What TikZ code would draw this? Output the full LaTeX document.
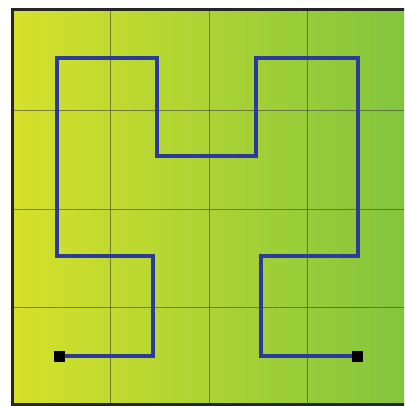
\documentclass[tikz,border=0pt]{standalone}
\begin{document}
\begin{tikzpicture}[x=1pt,y=-1pt,
  gridline/.style={draw=black!75,line width=0.8pt,opacity=0.6},
  curve/.style={draw=curveblue,line width=4pt,line join=miter},
  endbox/.style={fill=black,draw=none,minimum size=11pt,inner sep=0pt,rectangle}]
\definecolor{curveblue}{HTML}{2C3A9C}
\definecolor{leftc}{HTML}{D6E12A}
\definecolor{rightc}{HTML}{82C53E}
\useasboundingbox (0,0) rectangle (404,406);
\fill[white] (0,0) rectangle (404,406);
\begin{scope}
\clip (0,0) rectangle (404,406);
\shade[left color=leftc,right color=rightc] (12,10) rectangle (406,404);
\foreach \v in {110.5,209,307.5}{
  \draw[gridline] (\v,10) -- (\v,404);
  \draw[gridline] (12,\v) -- (406,\v);
}
\draw[line width=3pt,black!85] (12,10) rectangle (406,404);
\end{scope}
% Hilbert curve at cell centres
\node[endbox] (s) at (59,356) {};
\node[endbox] (e) at (357,356) {};
\coordinate (p1) at (153,356);
\coordinate (p2) at (153,256);
\coordinate (p3) at (57,256);
\coordinate (p4) at (57,58);
\coordinate (p5) at (157,58);
\coordinate (p6) at (157,156);
\coordinate (p7) at (256,156);
\coordinate (p8) at (256,58);
\coordinate (p9) at (358,58);
\coordinate (p10) at (358,256);
\coordinate (p11) at (261,256);
\coordinate (p12) at (261,356);
\draw[curve] (s.center) -- (p1) -- (p2) -- (p3) -- (p4) -- (p5) -- (p6) -- (p7) -- (p8) -- (p9) -- (p10) -- (p11) -- (p12) -- (e.center);
\node[endbox] at (s) {};
\node[endbox] at (e) {};
\end{tikzpicture}
\end{document}
